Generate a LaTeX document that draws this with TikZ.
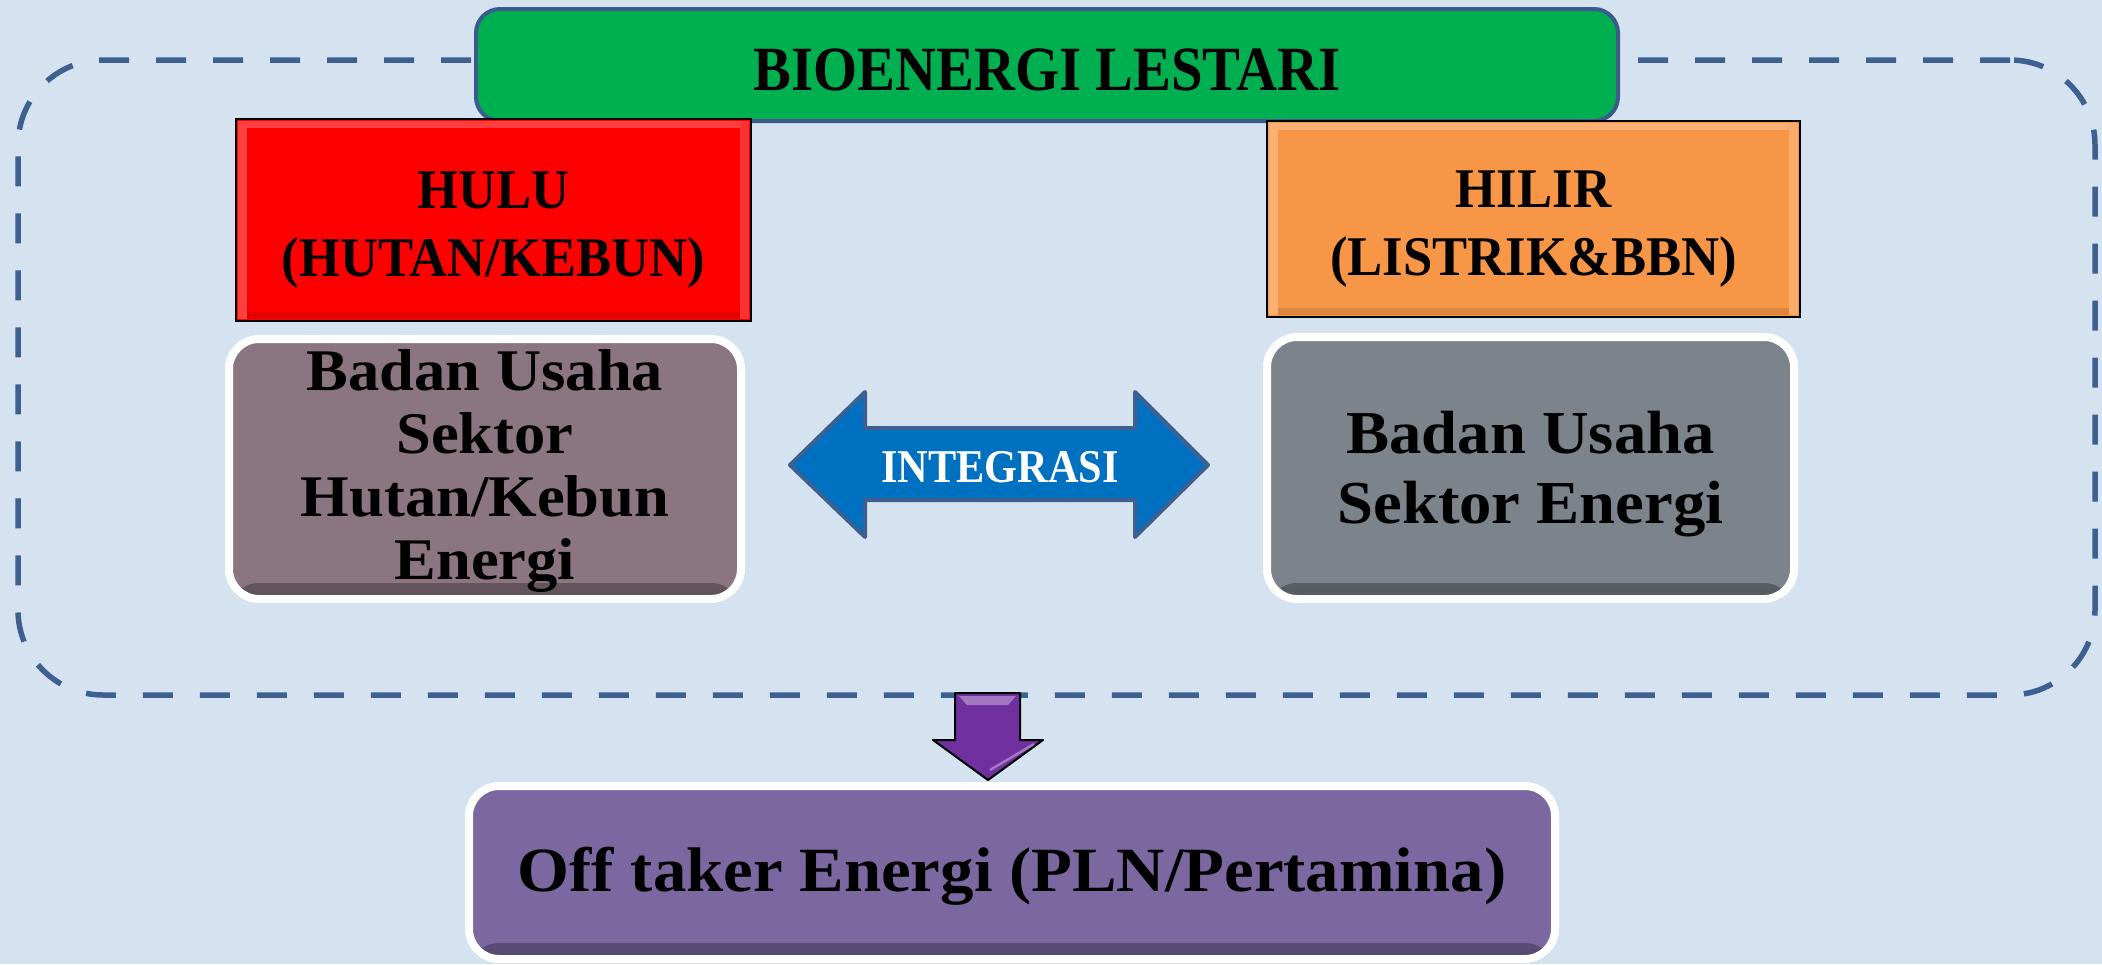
\documentclass[tikz,border=0pt]{standalone}
\usepackage{fontspec}
\setmainfont{Liberation Serif}
\newfontfamily\capf{Liberation Serif}[FakeStretch=0.9]
\newfontfamily\headf{Liberation Serif}[FakeStretch=0.94]
\newfontfamily\lowf{Liberation Serif}[FakeStretch=1.06]
\usetikzlibrary{calc,shadows}
\definecolor{bg}{RGB}{213,227,241}
\definecolor{dashc}{RGB}{62,96,145}
\definecolor{titlegreen}{RGB}{0,176,80}
\definecolor{titleedge}{RGB}{60,90,140}
\definecolor{hulured}{RGB}{255,0,0}
\definecolor{hilirorange}{RGB}{247,150,70}
\definecolor{mauve}{RGB}{139,117,128}
\definecolor{slate}{RGB}{124,131,138}
\definecolor{offpurple}{RGB}{123,104,160}
\definecolor{arrowblue}{RGB}{0,112,192}
\definecolor{arrowedge}{RGB}{63,95,143}
\definecolor{arrowpurple}{RGB}{112,48,160}
\tikzset{
  frame box/.style={draw=dashc, line width=5.5pt, dash pattern=on 30pt off 27pt,
    rounded corners=85pt, inner sep=0pt},
  title box/.style={draw=titleedge, fill=titlegreen, line width=4pt,
    rounded corners=24pt, inner sep=0pt, font=\capf\bfseries\fontsize{63}{70}\selectfont},
  head box/.style={draw=black, line width=2pt, inner sep=0pt},
  actor box/.style={draw=white, line width=8pt, rounded corners=30pt, inner sep=0pt,
    drop shadow={opacity=0.2, shadow xshift=2pt, shadow yshift=-4pt},
    path picture={\shade[top color=#1, bottom color=#1!70!black]
      ($(path picture bounding box.south west)+(0,-16)$) rectangle
      (path picture bounding box.south east);}},
  label text/.style={inner sep=0pt, align=center},
}
\begin{document}
\begin{tikzpicture}[x=1pt,y=-1pt]
\useasboundingbox (0,0) rectangle (2102,964);
\fill[bg] (0,0) rectangle (2102,964);

% dashed frame
\node[frame box, minimum width=2077pt, minimum height=635pt] (frame) at (1056.5,377.5) {};

% title
\node[title box, minimum width=1142pt, minimum height=112pt] (title) at (1047,65) {};
\node[label text, font=\capf\bfseries\fontsize{63}{70}\selectfont] (titletxt) at ($(title.center)+(0,5)$) {BIOENERGI LESTARI};

% hulu / hilir
\node[head box, fill=hulured, minimum width=515pt, minimum height=202pt] (hulu) at (493.5,220) {};
\node[head box, fill=hilirorange, minimum width=533pt, minimum height=196pt] (hilir) at (1533.5,219) {};
\foreach \b in {hulu,hilir}{
  \fill[white, opacity=0.25] ($(\b.north west)+(3,3)$) rectangle ($(\b.south west)+(12,-3)$);
  \fill[white, opacity=0.25] ($(\b.north west)+(12,3)$) rectangle ($(\b.north east)+(-12,10)$);
  \fill[white, opacity=0.2] ($(\b.north east)+(-12,3)$) rectangle ($(\b.south east)+(-3,-3)$);
  \fill[black, opacity=0.1] ($(\b.south west)+(12,-10)$) rectangle ($(\b.south east)+(-12,-3)$);
}
\node[label text, font=\headf\bfseries\fontsize{56}{68}\selectfont] (hulutxt) at ($(hulu.center)+(0,10)$) {HULU\\(HUTAN/KEBUN)};
\node[label text, font=\headf\bfseries\fontsize{56}{68}\selectfont] (hilirtxt) at ($(hilir.center)+(0,10)$) {HILIR\\(LISTRIK\&BBN)};

% badan usaha boxes
\node[actor box=mauve, fill=mauve, minimum width=512pt, minimum height=260pt] (buhutan) at (485,469) {};
\node[label text, font=\lowf\bfseries\fontsize{59}{63}\selectfont] (buhutantxt) at ($(buhutan.center)+(0,2)$)
  {Badan Usaha\\Sektor\\Hutan/Kebun\\Energi};
\node[actor box=slate, fill=slate, minimum width=527pt, minimum height=262pt] (buenergi) at (1530.5,468) {};
\node[label text, font=\lowf\bfseries\fontsize{61}{70}\selectfont] (buenergitxt) at ($(buenergi.center)+(0,6)$)
  {Badan Usaha\\Sektor Energi};

% integrasi double arrow
\draw[fill=arrowblue, draw=arrowedge, line width=4pt, line join=round]
  (790,465) -- (865,392) -- (865,428) -- (1135,428) -- (1135,392) -- (1208,465)
  -- (1135,537) -- (1135,500) -- (865,500) -- (865,537) -- cycle;
\node[label text, text=white, font=\capf\bfseries\fontsize{47}{50}\selectfont] (integ) at (1000,467) {INTEGRASI};

% off taker box
\node[actor box=offpurple, fill=offpurple, minimum width=1086pt, minimum height=173pt] (offtaker) at (1012,872.5) {};
\node[label text, font=\lowf\bfseries\fontsize{63}{70}\selectfont] (offtakertxt) at ($(offtaker.center)+(0,4)$)
  {Off taker Energi (PLN/Pertamina)};

% down arrow
\coordinate (dtop) at (988,693);
\coordinate (dtip) at (988,780);
\draw[draw=black, line width=2pt, line join=round, fill=arrowpurple]
  ($(dtop)+(-33,0)$) -- ($(dtop)+(32,0)$) -- ($(dtop)+(32,47)$) -- ($(dtop)+(55,47)$)
  -- (dtip) -- ($(dtop)+(-55,47)$) -- ($(dtop)+(-33,47)$) -- cycle;
\fill[white, opacity=0.35] ($(dtop)+(-29,3)$) -- ($(dtop)+(28,3)$) -- ($(dtop)+(20,12)$) -- ($(dtop)+(-21,12)$) -- cycle;
\draw[white, opacity=0.35, line width=2.5pt] ($(dtop)+(46,51)$) -- ($(dtip)+(2,-10)$);
\end{tikzpicture}
\end{document}
